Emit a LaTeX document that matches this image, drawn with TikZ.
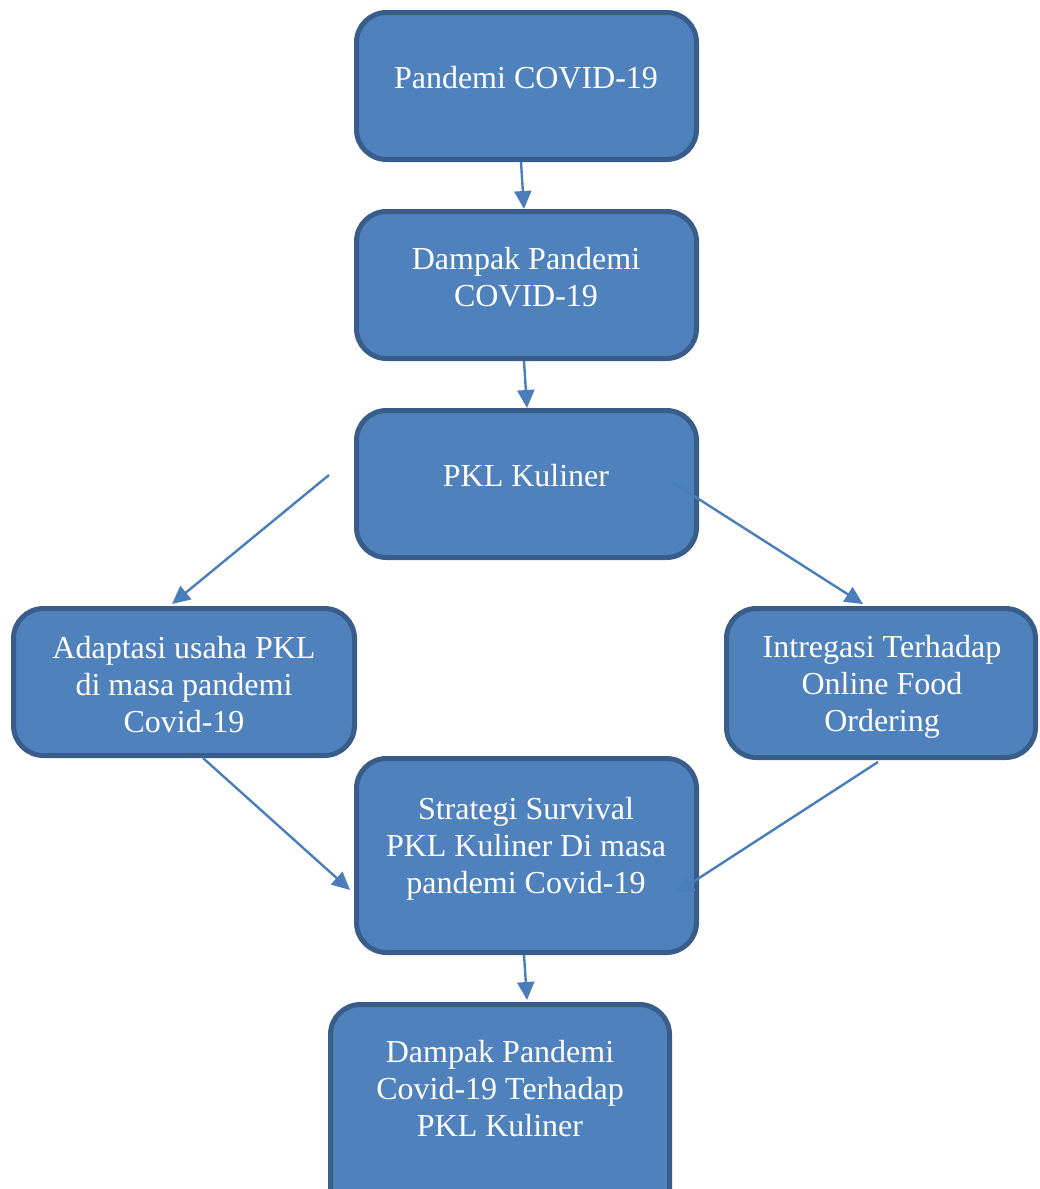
\documentclass[tikz,border=0pt]{standalone}
\usepackage{fontspec}
\setmainfont{Liberation Serif}
\usetikzlibrary{arrows.meta, calc}
\definecolor{BoxBlue}{HTML}{4F81BD}
\definecolor{BoxEdge}{HTML}{385D8A}
\definecolor{LinkBlue}{HTML}{4A7EBB}

\begin{document}
\begin{tikzpicture}[
        x=1pt, y=-1pt,
        box/.style={draw=BoxEdge, fill=BoxBlue, line width=5pt, rounded corners=30pt, inner sep=0pt},
        txt/.style={text=white, align=center, inner sep=0pt, font=\fontsize{32}{37}\selectfont},
        link/.style={draw=LinkBlue, line width=2.4pt, -{Triangle[length=18pt, width=17pt]}},
      ]
        \useasboundingbox (0,0) rectangle (1040,1189);
        % ---- kotak ----
        \node[box, minimum width=340, minimum height=147] (pandemi) at (526.5,86) {};
        \node[box, minimum width=340, minimum height=147] (dampak) at (526.5,285) {};
        \node[box, minimum width=340, minimum height=147] (pkl) at (526.5,484) {};
        \node[box, minimum width=341, minimum height=147] (adaptasi) at (184,682) {};
        \node[box, minimum width=309, minimum height=149] (integrasi) at (881,683) {};
        \node[box, minimum width=340, minimum height=194] (strategi) at (526.5,855.5) {};
        \node[box, minimum width=339, minimum height=235] (hasil) at (500,1122) {};
        % ---- teks ----
        \node[txt] (tpandemi) at (526,78) {Pandemi COVID-19};
        \node[txt] (tdampak) at (526,277) {Dampak Pandemi\\COVID-19};
        \node[txt] (tpkl) at (526,476) {PKL Kuliner};
        \node[txt] (tadaptasi) at (184,685) {Adaptasi usaha PKL\\di masa pandemi\\Covid-19};
        \node[txt] (tintegrasi) at (882,687) {Intregasi Terhadap\\Online Food\\Ordering};
        \node[txt] (tstrategi) at (526,849) {Strategi Survival\\PKL Kuliner Di masa\\pandemi Covid-19};
        \node[txt] (thasil) at (500,1089) {Dampak Pandemi\\Covid-19 Terhadap\\PKL Kuliner};
        % ---- panah ----
        \draw[link] ($(pandemi.south)+(-5.5,0)$) -- ($(dampak.north)+(-2.5,0)$);
        \draw[link] ($(dampak.south)+(-2.5,0)$) -- ($(pkl.north)+(0.5,0)$);
        \draw[link] ($(pkl.west)+(-25,-9)$) -- ($(adaptasi.north)+(-12,-2)$);
        \draw[link] ($(pkl.east)+(-27,-2)$) -- ($(integrasi.north)+(-18,-2)$);
        \draw[link] ($(adaptasi.south)+(19,0)$) -- ($(strategi.west)+(-4,34.5)$);
        \draw[link] ($(integrasi.south)+(-3,2)$) -- ($(strategi.east)+(-23,37.5)$);
        \draw[link] ($(strategi.south)+(-2.5,0)$) -- ($(hasil.north)+(27,-2)$);
      \end{tikzpicture}
\end{document}
